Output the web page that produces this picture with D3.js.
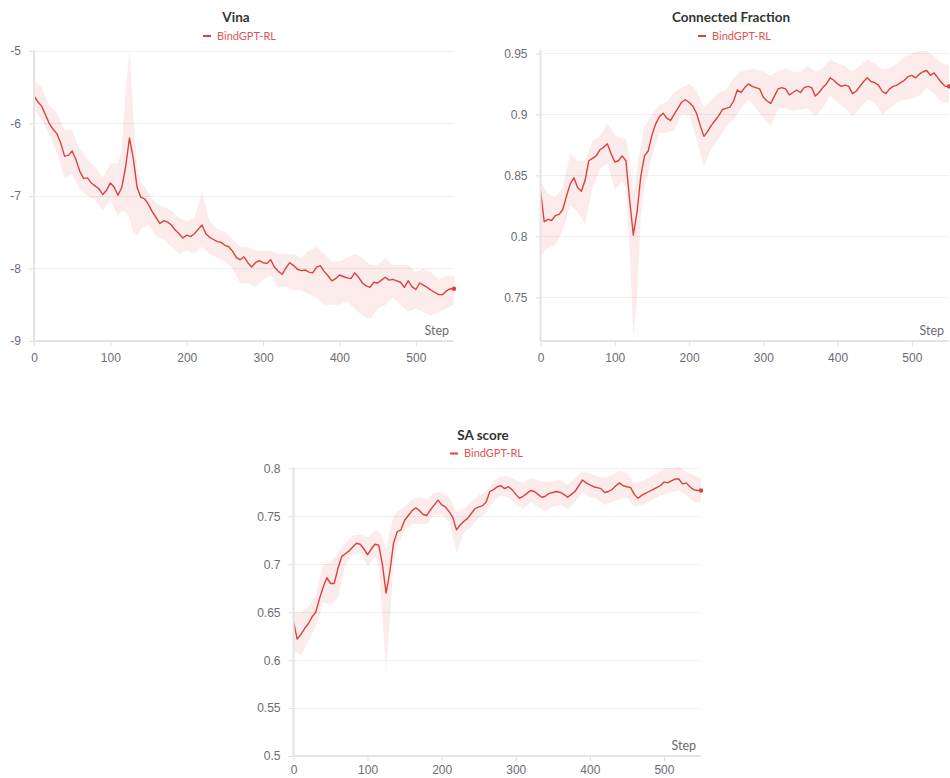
<!DOCTYPE html>
<meta charset="utf-8">
<style>
html, body {
  margin: 0;
  background: #fff;
}

.chart {
  display: block;
  font-family: "Source Sans Pro", Lato, "Noto Sans", sans-serif;
}

.chart .title {
  font-size: 13.5px;
  font-weight: bold;
  fill: #333;
}

.chart .legend text {
  font-size: 11px;
  fill: #e05555;
}

.chart .grid line {
  stroke: #efefef;
  shape-rendering: crispEdges;
}

.chart .axis text {
  font-size: 12px;
  fill: #6b6b76;
}

.chart .axis line {
  stroke: #dedede;
}

.chart .frame {
  stroke: #e4e4e4;
  stroke-width: 2;
}

.chart .band {
  fill: #e04848;
  fill-opacity: 0.11;
}

.chart .line {
  fill: none;
  stroke: #da4242;
  stroke-width: 1.4;
  stroke-linejoin: round;
}

.chart .step-label {
  font-size: 12.5px;
  fill: #6b6b76;
  text-anchor: end;
}
</style>
<body>
<svg class="chart js-chart" width="950" height="778"></svg>

<script src="https://d3js.org/d3.v7.min.js"></script>
<script type="text/javascript">
"use strict";

/* global d3 */

// mean is read every 5 steps; the band every 10 steps, closer around the dip at 125
var steps = d3.range(0, 551, 5);
var bandSteps = [
  0, 10, 20, 30, 40, 50, 60, 70, 80, 90, 100, 110, 115, 120, 125, 130, 135,
  140, 150, 160, 170, 180, 190, 200, 210, 220, 230, 240, 250, 260, 270, 280,
  290, 300, 310, 320, 330, 340, 350, 360, 370, 380, 390, 400, 410, 420, 430,
  440, 450, 460, 470, 480, 490, 500, 510, 520, 530, 540, 550
];
var stepTicks = [0, 100, 200, 300, 400, 500];
var seriesName = "BindGPT-RL";

var vinaTicks = [-9, -8, -7, -6, -5];
var vinaMean = [
  -5.62, -5.70, -5.76, -5.88, -6.00, -6.08, -6.14, -6.27, -6.45, -6.44,
  -6.38, -6.50, -6.66, -6.76, -6.75, -6.82, -6.86, -6.90, -6.98, -6.92,
  -6.82, -6.88, -6.99, -6.88, -6.60, -6.20, -6.48, -6.88, -7.02, -7.04,
  -7.12, -7.22, -7.30, -7.38, -7.34, -7.36, -7.40, -7.47, -7.52, -7.58,
  -7.54, -7.56, -7.52, -7.46, -7.40, -7.52, -7.57, -7.60, -7.63, -7.64,
  -7.68, -7.70, -7.76, -7.85, -7.88, -7.84, -7.92, -7.98, -7.92, -7.89,
  -7.92, -7.93, -7.88, -7.98, -8.04, -8.08, -7.99, -7.92, -7.96, -8.01,
  -8.03, -8.02, -8.05, -8.06, -7.98, -7.96, -8.04, -8.10, -8.17, -8.14,
  -8.09, -8.11, -8.13, -8.14, -8.06, -8.12, -8.20, -8.24, -8.26, -8.19,
  -8.20, -8.16, -8.12, -8.16, -8.15, -8.17, -8.19, -8.26, -8.17, -8.25,
  -8.29, -8.20, -8.23, -8.26, -8.30, -8.33, -8.36, -8.36, -8.31, -8.28,
  -8.28
];
var vinaHi = [
  -5.40, -5.50, -5.75, -5.85, -6.08, -6.10, -6.35, -6.50, -6.60, -6.75,
  -6.55, -6.55, -6.35, -5.55, -5.00, -5.85, -6.60,
  -6.80, -6.95, -7.10, -7.15, -7.20, -7.30, -7.35, -7.30, -6.95, -7.35,
  -7.45, -7.50, -7.60, -7.70, -7.70, -7.75, -7.75, -7.75, -7.80, -7.80,
  -7.80, -7.85, -7.75, -7.70, -7.80, -7.90, -7.90, -7.85, -7.80, -7.85,
  -7.95, -7.95, -7.85, -7.95, -7.95, -7.95, -8.05, -8.00, -8.05, -8.15,
  -8.10, -8.10
];
var vinaLo = [
  -5.80, -5.95, -6.15, -6.40, -6.75, -6.70, -6.90, -7.00, -7.05, -7.20,
  -7.05, -7.28, -7.20, -7.22, -7.30, -7.50, -7.55,
  -7.45, -7.40, -7.55, -7.60, -7.70, -7.80, -7.75, -7.80, -7.70, -7.80,
  -7.85, -7.90, -8.00, -8.20, -8.20, -8.25, -8.15, -8.10, -8.25, -8.25,
  -8.30, -8.30, -8.35, -8.40, -8.50, -8.50, -8.50, -8.45, -8.55, -8.65,
  -8.70, -8.55, -8.50, -8.40, -8.50, -8.60, -8.55, -8.60, -8.65, -8.60,
  -8.55, -8.50
];

var cfTicks = [0.75, 0.8, 0.85, 0.9, 0.95];
var cfMean = [
  0.838, 0.812, 0.814, 0.813, 0.817, 0.818, 0.822, 0.833, 0.843, 0.848,
  0.840, 0.837, 0.846, 0.862, 0.864, 0.866, 0.871, 0.873, 0.876, 0.868,
  0.861, 0.862, 0.866, 0.862, 0.830, 0.801, 0.820, 0.849, 0.866, 0.870,
  0.883, 0.892, 0.898, 0.901, 0.897, 0.895, 0.900, 0.905, 0.910, 0.912,
  0.910, 0.907, 0.901, 0.891, 0.882, 0.886, 0.891, 0.895, 0.899, 0.904,
  0.905, 0.906, 0.911, 0.920, 0.918, 0.922, 0.925, 0.923, 0.922, 0.921,
  0.914, 0.911, 0.909, 0.915, 0.921, 0.922, 0.921, 0.916, 0.918, 0.920,
  0.918, 0.922, 0.923, 0.922, 0.915, 0.918, 0.922, 0.925, 0.930, 0.928,
  0.925, 0.923, 0.924, 0.923, 0.917, 0.919, 0.923, 0.927, 0.930, 0.927,
  0.926, 0.924, 0.919, 0.917, 0.921, 0.923, 0.924, 0.926, 0.928, 0.931,
  0.932, 0.930, 0.933, 0.935, 0.936, 0.932, 0.934, 0.930, 0.926, 0.923,
  0.923
];
var cfHi = [
  0.845, 0.835, 0.832, 0.840, 0.868, 0.862, 0.862, 0.878, 0.882, 0.893,
  0.883, 0.880, 0.880, 0.865, 0.835, 0.855, 0.875,
  0.890, 0.900, 0.908, 0.910, 0.918, 0.922, 0.925, 0.920, 0.905, 0.912,
  0.918, 0.920, 0.930, 0.935, 0.937, 0.937, 0.935, 0.932, 0.935, 0.938,
  0.935, 0.935, 0.940, 0.935, 0.938, 0.945, 0.942, 0.940, 0.935, 0.940,
  0.945, 0.942, 0.937, 0.938, 0.942, 0.947, 0.950, 0.952, 0.952, 0.948,
  0.942, 0.940
];
var cfLo = [
  0.785, 0.790, 0.793, 0.805, 0.825, 0.820, 0.810, 0.840, 0.855, 0.860,
  0.838, 0.845, 0.840, 0.790, 0.716, 0.750, 0.815,
  0.840, 0.865, 0.885, 0.885, 0.887, 0.900, 0.900, 0.880, 0.857, 0.872,
  0.880, 0.890, 0.896, 0.905, 0.912, 0.905, 0.897, 0.890, 0.905, 0.905,
  0.903, 0.904, 0.905, 0.898, 0.905, 0.915, 0.910, 0.905, 0.898, 0.905,
  0.912, 0.910, 0.900, 0.905, 0.910, 0.912, 0.913, 0.915, 0.922, 0.917,
  0.910, 0.910
];

var saTicks = [0.5, 0.55, 0.6, 0.65, 0.7, 0.75, 0.8];
var saMean = [
  0.640, 0.622, 0.627, 0.633, 0.638, 0.645, 0.650, 0.664, 0.676, 0.686,
  0.680, 0.680, 0.696, 0.708, 0.711, 0.714, 0.718, 0.722, 0.721, 0.716,
  0.710, 0.716, 0.721, 0.720, 0.700, 0.670, 0.692, 0.722, 0.734, 0.736,
  0.746, 0.751, 0.756, 0.759, 0.756, 0.752, 0.751, 0.757, 0.762, 0.767,
  0.762, 0.760, 0.755, 0.749, 0.736, 0.741, 0.745, 0.748, 0.753, 0.758,
  0.760, 0.761, 0.765, 0.776, 0.778, 0.781, 0.782, 0.779, 0.781, 0.778,
  0.773, 0.769, 0.771, 0.774, 0.777, 0.776, 0.773, 0.770, 0.771, 0.774,
  0.775, 0.776, 0.775, 0.773, 0.770, 0.773, 0.776, 0.782, 0.788, 0.785,
  0.783, 0.781, 0.780, 0.779, 0.775, 0.776, 0.778, 0.782, 0.785, 0.782,
  0.781, 0.780, 0.773, 0.769, 0.772, 0.774, 0.776, 0.778, 0.780, 0.782,
  0.786, 0.785, 0.787, 0.789, 0.789, 0.784, 0.785, 0.781, 0.778, 0.777,
  0.777
];
var saHi = [
  0.650, 0.650, 0.655, 0.668, 0.700, 0.702, 0.712, 0.722, 0.730, 0.731,
  0.728, 0.735, 0.735, 0.728, 0.715, 0.735, 0.750,
  0.755, 0.760, 0.768, 0.770, 0.768, 0.775, 0.775, 0.770, 0.755, 0.758,
  0.765, 0.772, 0.776, 0.787, 0.792, 0.792, 0.788, 0.785, 0.790, 0.788,
  0.786, 0.787, 0.788, 0.783, 0.790, 0.797, 0.795, 0.792, 0.790, 0.793,
  0.798, 0.795, 0.785, 0.787, 0.790, 0.795, 0.800, 0.800, 0.802, 0.797,
  0.793, 0.790
];
var saLo = [
  0.610, 0.605, 0.620, 0.635, 0.660, 0.658, 0.665, 0.700, 0.710, 0.712,
  0.698, 0.708, 0.700, 0.645, 0.590, 0.640, 0.700,
  0.720, 0.735, 0.742, 0.742, 0.742, 0.752, 0.752, 0.745, 0.712, 0.733,
  0.740, 0.748, 0.754, 0.766, 0.772, 0.770, 0.763, 0.758, 0.765, 0.760,
  0.756, 0.760, 0.762, 0.757, 0.765, 0.775, 0.770, 0.768, 0.762, 0.765,
  0.768, 0.770, 0.760, 0.762, 0.765, 0.770, 0.773, 0.775, 0.777, 0.772,
  0.765, 0.765
];

var svg = d3.select(".js-chart");

var panels = [
  { title: "Vina", mean: vinaMean, hi: vinaHi, lo: vinaLo, ticks: vinaTicks,
    yDomain: [-9, -5], left: 34, right: 454, top: 51, bottom: 341, cx: 236, xPad: 7 },
  { title: "Connected Fraction", mean: cfMean, hi: cfHi, lo: cfLo, ticks: cfTicks,
    yDomain: [0.7142, 0.952], left: 540.5, right: 949, top: 51, bottom: 341, cx: 731, xPad: 7 },
  { title: "SA score", mean: saMean, hi: saHi, lo: saLo, ticks: saTicks,
    yDomain: [0.5, 0.8], left: 293.5, right: 701, top: 468.5, bottom: 756, cx: 483, xPad: 4 }
];

panels.forEach(function (p, i) {
  var x = d3.scaleLinear().domain([0, 550]).range([p.left, p.right]);
  var y = d3.scaleLinear().domain(p.yDomain).range([p.bottom, p.top]);
  var g = svg.append("g").attr("class", "panel");

  g.append("text")
    .attr("class", "title")
    .attr("x", p.cx)
    .attr("y", p.top - 29)
    .attr("text-anchor", "middle")
    .text(p.title);

  var legend = g.append("g")
    .attr("class", "legend")
    .attr("transform", "translate(" + p.cx + "," + (p.top - 15) + ")");
  legend.append("line")
    .attr("x1", -33).attr("x2", -25)
    .attr("stroke", "#da4242").attr("stroke-width", 2);
  legend.append("text")
    .attr("x", -19).attr("dy", "0.35em")
    .text(seriesName);

  g.append("g").attr("class", "grid")
    .selectAll("line").data(p.ticks)
    .enter().append("line")
      .attr("x1", p.left).attr("x2", p.right)
      .attr("y1", y).attr("y2", y);

  var clipId = "clip" + i;
  g.append("clipPath").attr("id", clipId)
    .append("rect")
      .attr("x", p.left).attr("y", p.top - 2)
      .attr("width", p.right - p.left + 1).attr("height", p.bottom - p.top + 2);

  var plot = g.append("g").attr("clip-path", "url(#" + clipId + ")");

  var band = d3.area()
    .x(function (d, j) { return x(bandSteps[j]); })
    .y0(function (d, j) { return y(p.lo[j]); })
    .y1(function (d, j) { return y(p.hi[j]); });
  plot.append("path").attr("class", "band").attr("d", band(p.hi));

  var line = d3.line()
    .x(function (d, j) { return x(steps[j]); })
    .y(function (d) { return y(d); });
  plot.append("path").attr("class", "line").attr("d", line(p.mean));

  var last = p.mean.length - 1;
  g.append("circle")
    .attr("cx", x(steps[last])).attr("cy", y(p.mean[last]))
    .attr("r", 2.2).attr("fill", "#da4242");

  g.append("g").attr("class", "axis axis--y")
    .attr("transform", "translate(" + p.left + ",0)")
    .call(d3.axisLeft(y).tickValues(p.ticks).tickSize(5).tickPadding(8)
      .tickFormat(function (d) { return String(d); }))
    .call(function (s) { s.select(".domain").remove(); });

  g.append("g").attr("class", "axis axis--x")
    .attr("transform", "translate(0," + p.bottom + ")")
    .call(d3.axisBottom(x).tickValues(stepTicks).tickSize(5).tickPadding(p.xPad)
      .tickFormat(function (d) { return String(d); }))
    .call(function (s) { s.select(".domain").remove(); });

  g.append("line").attr("class", "frame")
    .attr("x1", p.left).attr("x2", p.left)
    .attr("y1", p.top - 1).attr("y2", p.bottom + 1);
  g.append("line").attr("class", "frame")
    .attr("x1", p.left).attr("x2", p.right)
    .attr("y1", p.bottom).attr("y2", p.bottom);

  g.append("text")
    .attr("class", "step-label")
    .attr("x", p.right - 5)
    .attr("y", p.bottom - 6)
    .text("Step");
});
</script>
</body>
